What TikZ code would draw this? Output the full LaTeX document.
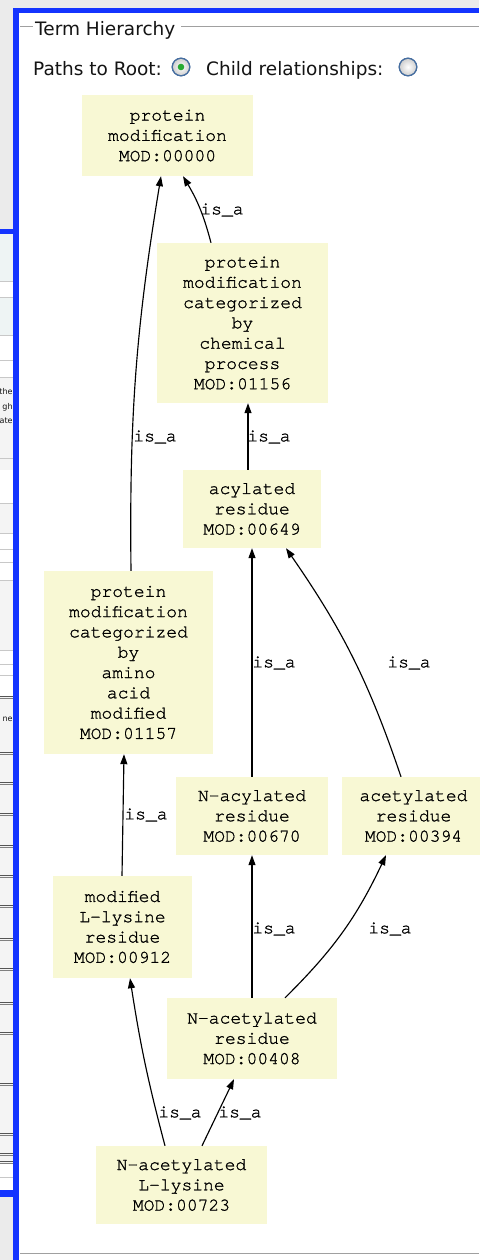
\documentclass[tikz,border=0pt]{standalone}
\usepackage{fontspec}
\usetikzlibrary{arrows.meta,calc}
\newfontfamily\monofam{TeX Gyre Cursor}[FakeBold=1.2]
\newfontfamily\uifam{DejaVu Sans}
\definecolor{bggray}{RGB}{235,235,235}
\definecolor{frameblue}{RGB}{20,52,255}
\definecolor{panelgray}{RGB}{244,244,244}
\definecolor{rowblue}{RGB}{238,244,244}
\definecolor{rowline}{RGB}{200,200,200}
\definecolor{darkline}{RGB}{85,85,85}
\definecolor{groupline}{RGB}{160,160,160}
\definecolor{termfill}{RGB}{248,248,212}
\definecolor{uitextcol}{RGB}{20,20,20}
\definecolor{radioborder}{RGB}{70,110,160}
\definecolor{radioshade}{RGB}{205,205,205}
\definecolor{radiogreen}{RGB}{40,170,50}
\begin{document}
\begin{tikzpicture}[x=1pt,y=-1pt,
  termbox/.style={fill=termfill, inner sep=0pt, align=center,
    font=\monofam\fontsize{18}{20.3}\selectfont, text=black},
  link/.style={draw=black, line width=1.15pt, -{Triangle[length=10pt,width=7pt]}},
  lbl/.style={font=\monofam\fontsize{18}{20}\selectfont, inner sep=0pt, text=black},
  uitext/.style={font=\uifam\fontsize{18.5}{21}\selectfont, text=uitextcol, inner sep=0pt, anchor=base west},
  cuttext/.style={font=\uifam\fontsize{8}{9}\selectfont, text=uitextcol, inner sep=0pt, anchor=base east},
  radiobtn/.style={draw=radioborder, line width=1.1pt, inner color=white, outer color=radioshade}]
\useasboundingbox (0,0) rectangle (479,1260);
% background
\fill[bggray] (0,0) rectangle (479,1260);
% left strip (cut-off table)
\begin{scope}
  \clip (0,0) rectangle (13,1260);
  \fill[panelgray] (0,234) rectangle (13,1190);
  \fill[rowblue] (0,234) rectangle (13,281);
  \fill[rowblue] (0,297) rectangle (13,335);
  \fill[white] (0,281) rectangle (13,297);
  \fill[white] (0,335) rectangle (13,377);
  \fill[white] (0,470) rectangle (13,503);
  \fill[white] (0,533) rectangle (13,580);
  \fill[white] (0,650) rectangle (13,696);
  \fill[white] (0,1163) rectangle (13,1190);
  \foreach \yy in {281,297,335,360,377,458,503,533,549,562,580,650,664,675,1177}
    \draw[rowline, line width=1pt] (0,\yy) -- (13,\yy);
  \foreach \yy in {696,752,782,813,845,875,905,938,968,1002,1032,1083,1133,1153,1161}{
    \draw[darkline, line width=1pt] (0,\yy) -- (13,\yy);
    \draw[gray, line width=0.8pt] (0,\yy+2.5) -- (13,\yy+2.5);}
  \fill[frameblue] (0,229) rectangle (13,234);
  \fill[frameblue] (0,1190) rectangle (13,1197);
\end{scope}
\node[cuttext] (frag1) at (12.8,394) {the};
\node[cuttext] (frag2) at (12.8,409) {gh};
\node[cuttext] (frag3) at (12.8,423) {ate};
\node[cuttext] (frag4) at (12.8,721) {ne};
% main panel and blue frame
\fill[white] (19,13) rectangle (479,1260);
\fill[frameblue] (13,8) rectangle (479,13.5);
\fill[frameblue] (13,8) rectangle (19,1260);
% group box
\draw[groupline, line width=1pt] (20,26.5) -- (33,26.5);
\draw[groupline, line width=1pt] (181,26.5) -- (479,26.5);
\draw[groupline, line width=1pt] (20,1253) -- (479,1253);
\node[uitext] (title) at (35,36) {Term Hierarchy};
\node[uitext] (paths) at (33,76) {Paths to Root:};
\node[uitext] (child) at (206,76) {Child relationships:};
\shade[radiobtn] (181,67) circle[radius=8.8pt];
\draw[radioborder, line width=1.1pt] (181,67) circle[radius=8.8pt];
\fill[radiogreen] (181,67) circle[radius=3.3pt];
\shade[radiobtn] (408,67) circle[radius=8.8pt];
\draw[radioborder, line width=1.1pt] (408,67) circle[radius=8.8pt];
% terms
\node[termbox, minimum width=171pt, minimum height=81pt] (n00000) at (167.5,135.5) {protein\\modification\\MOD:00000};
\node[termbox, minimum width=171pt, minimum height=160pt] (n01156) at (242.5,323) {protein\\modification\\categorized\\by\\chemical\\process\\MOD:01156};
\node[termbox, minimum width=138pt, minimum height=78pt] (n00649) at (252,509) {acylated\\residue\\MOD:00649};
\node[termbox, minimum width=169pt, minimum height=183pt] (n01157) at (128.5,662.5) {protein\\modification\\categorized\\by\\amino\\acid\\modified\\MOD:01157};
\node[termbox, minimum width=152pt, minimum height=78pt] (n00670) at (252,816) {N-acylated\\residue\\MOD:00670};
\node[termbox, minimum width=143pt, minimum height=78pt] (n00394) at (413.5,816) {acetylated\\residue\\MOD:00394};
\node[termbox, minimum width=139pt, minimum height=102pt] (n00912) at (122.5,927) {modified\\L-lysine\\residue\\MOD:00912};
\node[termbox, minimum width=170pt, minimum height=81pt] (n00408) at (252,1038.5) {N-acetylated\\residue\\MOD:00408};
\node[termbox, minimum width=171pt, minimum height=78pt] (n00723) at (181.5,1185) {N-acetylated\\L-lysine\\MOD:00723};
% links
\draw[link] ($(n01156.north)+(-31.5,0)$) to[bend right=8] ($(n00000.south)+(15.5,0)$);
\draw[link] ($(n01157.north)+(2.5,0)$) to[bend left=5] ($(n00000.south)+(-6.5,0)$);
\draw[link] ($(n00649.north)+(-4,0)$) -- ($(n01156.south)+(5.5,0)$);
\draw[link] (n00670.north) -- (n00649.south);
\draw[link] ($(n00394.north)+(-12.5,0)$) to[bend right=8] ($(n00649.south)+(34,0)$);
\draw[link] ($(n00912.north)+(-0.5,0)$) -- ($(n01157.south)+(-4.5,0)$);
\draw[link] (n00408.north) -- (n00670.south);
\draw[link] ($(n00408.north)+(33,0)$) to[bend right=10] ($(n00394.south)+(-27.5,0)$);
\draw[link] ($(n00723.north)+(-16.5,0)$) to[bend left=3] ($(n00912.south)+(7.5,0)$);
\draw[link] ($(n00723.north)+(20.5,0)$) -- ($(n00408.south)+(-18,0)$);
% labels
\node[lbl] (l1) at (222,210) {is\_a};
\node[lbl] (l2) at (155,437) {is\_a};
\node[lbl] (l3) at (269,437) {is\_a};
\node[lbl] (l4) at (274,663) {is\_a};
\node[lbl] (l5) at (409,663) {is\_a};
\node[lbl] (l6) at (146,815) {is\_a};
\node[lbl] (l7) at (274,929) {is\_a};
\node[lbl] (l8) at (390,929) {is\_a};
\node[lbl] (l9) at (180,1113) {is\_a};
\node[lbl] (l10) at (240,1113) {is\_a};
\end{tikzpicture}
\end{document}
